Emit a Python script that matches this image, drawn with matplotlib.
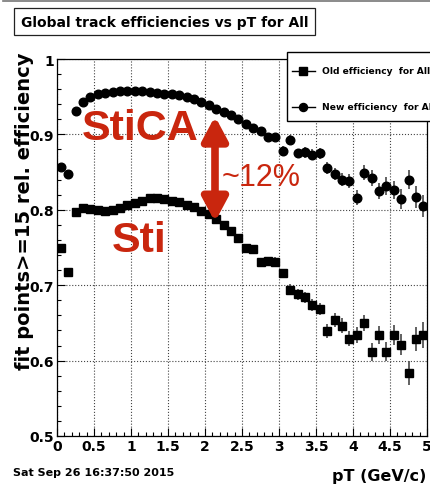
import matplotlib
matplotlib.use("Agg")
import matplotlib.pyplot as plt
from matplotlib.lines import Line2D
from matplotlib.patches import Rectangle

# data (bin centres, 0.1 GeV/c bins)
pt = [0.05, 0.15, 0.25, 0.35, 0.45, 0.55, 0.65, 0.75, 0.85, 0.95,
      1.05, 1.15, 1.25, 1.35, 1.45, 1.55, 1.65, 1.75, 1.85, 1.95,
      2.05, 2.15, 2.25, 2.35, 2.45, 2.55, 2.65, 2.75, 2.85, 2.95,
      3.05, 3.15, 3.25, 3.35, 3.45, 3.55, 3.65, 3.75, 3.85, 3.95,
      4.05, 4.15, 4.25, 4.35, 4.45, 4.55, 4.65, 4.75, 4.85, 4.95]

eff_old = [0.750, 0.717, 0.797, 0.803, 0.801, 0.800, 0.798, 0.800, 0.803, 0.806,
           0.809, 0.812, 0.815, 0.815, 0.814, 0.812, 0.810, 0.807, 0.804, 0.799,
           0.794, 0.788, 0.780, 0.772, 0.762, 0.750, 0.748, 0.731, 0.732, 0.731,
           0.716, 0.694, 0.688, 0.684, 0.674, 0.669, 0.639, 0.654, 0.646, 0.629,
           0.634, 0.650, 0.612, 0.634, 0.612, 0.634, 0.621, 0.583, 0.629, 0.634]
err_old = [0.004, 0.004, 0.003, 0.002, 0.002, 0.002, 0.002, 0.002, 0.002, 0.002,
           0.002, 0.002, 0.002, 0.002, 0.002, 0.002, 0.003, 0.003, 0.003, 0.003,
           0.003, 0.003, 0.004, 0.004, 0.004, 0.005, 0.005, 0.005, 0.006, 0.006,
           0.006, 0.007, 0.007, 0.007, 0.008, 0.008, 0.009, 0.009, 0.010, 0.010,
           0.011, 0.011, 0.012, 0.012, 0.013, 0.013, 0.014, 0.016, 0.016, 0.017]

eff_new = [0.857, 0.847, 0.931, 0.943, 0.950, 0.953, 0.955, 0.956, 0.957, 0.958,
           0.957, 0.957, 0.956, 0.955, 0.954, 0.953, 0.952, 0.950, 0.947, 0.943,
           0.939, 0.934, 0.930, 0.926, 0.921, 0.914, 0.909, 0.905, 0.896, 0.896,
           0.878, 0.893, 0.875, 0.876, 0.873, 0.875, 0.855, 0.847, 0.840, 0.838,
           0.816, 0.849, 0.842, 0.825, 0.832, 0.826, 0.814, 0.840, 0.817, 0.805]
err_new = [0.003, 0.003, 0.002, 0.002, 0.002, 0.002, 0.002, 0.002, 0.002, 0.002,
           0.002, 0.002, 0.002, 0.002, 0.002, 0.002, 0.002, 0.003, 0.003, 0.003,
           0.003, 0.003, 0.003, 0.004, 0.004, 0.004, 0.004, 0.005, 0.005, 0.005,
           0.006, 0.006, 0.006, 0.007, 0.007, 0.007, 0.008, 0.008, 0.009, 0.009,
           0.010, 0.010, 0.011, 0.011, 0.012, 0.012, 0.013, 0.013, 0.014, 0.015]

x_ticks = [0, 0.5, 1, 1.5, 2, 2.5, 3, 3.5, 4, 4.5, 5]
x_labels = ['0', '0.5', '1', '1.5', '2', '2.5', '3', '3.5', '4', '4.5', '5']
y_ticks = [0.5, 0.6, 0.7, 0.8, 0.9, 1.0]
y_labels = ['0.5', '0.6', '0.7', '0.8', '0.9', '1']

W, H = 430, 485
red = '#c9260e'

fig = plt.figure(figsize=(W / 100, H / 100), dpi=100)
fig.patch.set_facecolor('white')

def fx(px):
    return px / W

def fy(py):
    return 1 - py / H

ax = fig.add_axes([fx(57), fy(437), 370 / W, 377 / H])

ax.errorbar(pt, eff_old, yerr=err_old, fmt='s', color='black', ms=5.8,
            ecolor='#555555', elinewidth=1.3, capsize=0, zorder=3)
ax.errorbar(pt, eff_new, yerr=err_new, fmt='o', color='black', ms=6.2,
            ecolor='#555555', elinewidth=1.3, capsize=0, zorder=3)

ax.set_xlim(0, 5)
ax.set_ylim(0.5, 1.0)
ax.set_xticks(x_ticks)
ax.set_xticklabels(x_labels, fontweight='bold', fontsize=10)
ax.set_yticks(y_ticks)
ax.set_yticklabels(y_labels, fontweight='bold', fontsize=10)
ax.set_xticks([i / 10 for i in range(51)], minor=True)
ax.set_yticks([0.5 + i * 0.02 for i in range(26)], minor=True)
ax.tick_params(which='both', direction='in', top=False, right=False)
ax.tick_params(which='major', length=6, width=0.8, pad=2)
ax.tick_params(which='minor', length=3, width=0.8)
ax.grid(True, which='major', linestyle=':', color='#444444', linewidth=0.8)
for s in ax.spines.values():
    s.set_linewidth(0.9)

# annotations
ax.text(1.13, 0.9085, 'StiCA', color=red, fontsize=31, fontweight='bold',
        family='Liberation Sans', ha='center', va='center', zorder=5)
ax.text(1.11, 0.760, 'Sti', color=red, fontsize=31, fontweight='bold',
        family='Liberation Sans', ha='center', va='center', zorder=5)
ax.annotate('', xy=(2.135, 0.924), xytext=(2.135, 0.784),
            arrowprops=dict(arrowstyle='<|-|>,head_length=1.4,head_width=0.75',
                            color=red, lw=5.5, shrinkA=0, shrinkB=0), zorder=5)
ax.text(2.23, 0.8435, '~12%', color=red, fontsize=22,
        family='Liberation Sans', ha='left', va='center', zorder=5)

# title box
fig.text(fx(21), fy(22.5), 'Global track efficiencies vs pT for All',
         fontsize=10, fontweight='bold', ha='left', va='center',
         bbox=dict(boxstyle='square,pad=0.5', fc='white', ec='#222222', lw=0.9))

# legend box (ROOT style, runs off the right edge)
fig.patches.append(Rectangle((fx(287), fy(122)), 160 / W, 69 / H,
                             transform=fig.transFigure, fc='white',
                             ec='black', lw=1.0, zorder=10))
for py, mk, lbl in [(72, 's', 'Old efficiency  for All'),
                    (108, 'o', 'New efficiency  for All')]:
    fig.lines.append(Line2D([fx(292), fx(315)], [fy(py), fy(py)],
                            transform=fig.transFigure, color='black', lw=1,
                            zorder=11))
    fig.lines.append(Line2D([fx(303)], [fy(py)], transform=fig.transFigure,
                            color='black', marker=mk, ms=5.8, zorder=11))
    fig.text(fx(322), fy(py), lbl, fontsize=6.6, fontweight='bold',
             ha='left', va='center', zorder=12)

# axis titles, date
fig.text(fx(25), fy(53), 'fit points>=15 rel. efficiency', rotation=90,
         fontsize=14, fontweight='bold', ha='center', va='top')
fig.text(fx(426), fy(484), 'pT (GeV/c)', fontsize=11.5, fontweight='bold',
         ha='right', va='bottom')
fig.text(fx(13), fy(473), 'Sat Sep 26 16:37:50 2015', fontsize=8,
         fontweight='bold', ha='left', va='center')

# thin canvas border at top
fig.lines.append(Line2D([fx(3), 1], [fy(2), fy(2)], transform=fig.transFigure,
                        color='#777777', lw=1.2))

fig.savefig('out.png', dpi=100)
